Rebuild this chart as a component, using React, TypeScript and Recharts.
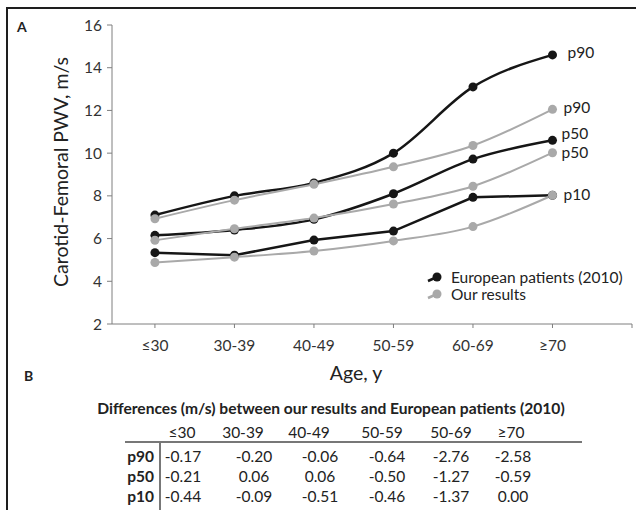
import React from "react";
import { LineChart, Line, XAxis, YAxis, LabelList } from "recharts";

// age groups on the x axis
const categories = ["≤30", "30-39", "40-49", "50-59", "60-69", "≥70"];

// European patients (2010)
const euroP90 = [7.1, 8.0, 8.6, 10.0, 13.1, 14.6];
const euroP50 = [6.15, 6.4, 6.9, 8.1, 9.72, 10.6];
const euroP10 = [5.34, 5.22, 5.93, 6.35, 7.93, 8.03];

// our results
const ourP90 = [6.93, 7.8, 8.54, 9.36, 10.36, 12.05];
const ourP50 = [5.92, 6.46, 6.96, 7.62, 8.45, 10.02];
const ourP10 = [4.88, 5.13, 5.42, 5.89, 6.56, 8.03];

const yTicks = [2, 4, 6, 8, 10, 12, 14, 16];

// table B
const tableTitle = "Differences (m/s) between our results and European patients (2010)";
const tableHeaders = ["≤30", "30-39", "40-49", "50-59", "50-69", "≥70"];
const diffP90 = ["-0.17", "-0.20", "-0.06", "-0.64", "-2.76", "-2.58"];
const diffP50 = ["-0.21", "0.06", "0.06", "-0.50", "-1.27", "-0.59"];
const diffP10 = ["-0.44", "-0.09", "-0.51", "-0.46", "-1.37", "0.00"];

const BLACK = "#161616";
const GRAY = "#a9a9a9";
const AXIS = "#7f7f7f";
const FONT = "Lato, 'Open Sans', sans-serif";

const rows = categories.map((cat, i) => ({
  idx: i,
  cat,
  eP90: euroP90[i],
  eP50: euroP50[i],
  eP10: euroP10[i],
  oP90: ourP90[i],
  oP50: ourP50[i],
  oP10: ourP10[i],
}));

const last = categories.length - 1;

// label at the end of a line (only the last point)
const endLabel = (text: string, dx: number, dy: number) => (props: any) => {
  if (props.index !== last) return null;
  return (
    <text
      x={props.x + dx}
      y={props.y + dy}
      fill="#222"
      fontSize={15.5}
      fontFamily={FONT}
      dominantBaseline="central"
    >
      {text}
    </text>
  );
};

const dot = (c: string) => ({ r: 4.5, fill: c, stroke: c, strokeWidth: 0 });

const colsHead = [182, 243, 309, 382, 451, 511];
const colsVal = [183, 254, 320, 387, 451, 513];

const Cell = ({ x, y, w = 70, bold = false, align = "center", children }: any) => (
  <div
    style={{
      position: "absolute",
      left: align === "center" ? x - w / 2 : align === "right" ? x - w : x,
      top: y - 10,
      width: w,
      height: 20,
      lineHeight: "20px",
      textAlign: align,
      fontWeight: bold ? 700 : 400,
      fontSize: 15.5,
      color: "#222",
      whiteSpace: "nowrap",
    }}
  >
    {children}
  </div>
);

const tableRows = [
  { name: "p90", vals: diffP90, y: 456 },
  { name: "p50", vals: diffP50, y: 476 },
  { name: "p10", vals: diffP10, y: 496 },
];

export default function App() {
  return (
    <div
      style={{
        position: "relative",
        width: 636,
        height: 510,
        overflow: "hidden",
        fontFamily: FONT,
        background: "#fff",
      }}
    >
      <style>{`body{margin:0;overflow:hidden}`}</style>
      {/* frame */}
      <div
        style={{
          position: "absolute",
          left: 6,
          top: 7,
          width: 660,
          height: 540,
          borderTop: "2.5px solid #1e1e1e",
          borderLeft: "2.5px solid #1e1e1e",
        }}
      />
      <div style={{ position: "absolute", left: 8, top: 9 }}>
        <LineChart
          width={626}
          height={390}
          data={rows}
          margin={{ top: 16, right: 2, bottom: 15, left: 0 }}
        >
          <XAxis
            dataKey="idx"
            type="number"
            domain={[-0.54, 6]}
            ticks={[0, 1, 2, 3, 4, 5, 6]}
            interval={0}
            allowDataOverflow
            tickFormatter={(v: number) => categories[v] ?? ""}
            stroke={AXIS}
            tickSize={4}
            tickMargin={12}
            height={60}
            tick={{ fill: "#333", fontSize: 15.5, fontFamily: FONT }}
            label={{
              value: "Age, y",
              content: () => (
                <text
                  x={348}
                  y={363}
                  textAnchor="middle"
                  dominantBaseline="central"
                  fill="#222"
                  fontSize={19.5}
                  fontFamily={FONT}
                >
                  Age, y
                </text>
              ),
            }}
          />
          <YAxis
            domain={[2, 16]}
            ticks={yTicks}
            interval={0}
            width={104}
            stroke={AXIS}
            tickSize={5}
            tickMargin={5}
            tick={{ fill: "#333", fontSize: 15.5, fontFamily: FONT }}
            label={{
              value: "Carotid-Femoral PWV, m/s",
              content: () => (
                <text
                  x={52}
                  y={163}
                  transform="rotate(-90, 52, 163)"
                  textAnchor="middle"
                  dominantBaseline="central"
                  fill="#222"
                  fontSize={19.5}
                  fontFamily={FONT}
                >
                  Carotid-Femoral PWV, m/s
                </text>
              ),
            }}
          />
          <Line type="monotone" dataKey="eP90" stroke={BLACK} strokeWidth={2.5} dot={dot(BLACK)} activeDot={false} isAnimationActive={false}>
            <LabelList dataKey="eP90" content={endLabel("p90", 15, -3)} />
          </Line>
          <Line type="monotone" dataKey="eP50" stroke={BLACK} strokeWidth={2.5} dot={dot(BLACK)} activeDot={false} isAnimationActive={false}>
            <LabelList dataKey="eP50" content={endLabel("p50", 9, -7)} />
          </Line>
          <Line type="linear" dataKey="eP10" stroke={BLACK} strokeWidth={2.5} dot={dot(BLACK)} activeDot={false} isAnimationActive={false}>
            <LabelList dataKey="eP10" content={endLabel("p10", 11, -1)} />
          </Line>
          <Line type="monotone" dataKey="oP90" stroke={GRAY} strokeWidth={2} dot={dot(GRAY)} activeDot={false} isAnimationActive={false}>
            <LabelList dataKey="oP90" content={endLabel("p90", 11, -2)} />
          </Line>
          <Line type="monotone" dataKey="oP50" stroke={GRAY} strokeWidth={2} dot={dot(GRAY)} activeDot={false} isAnimationActive={false}>
            <LabelList dataKey="oP50" content={endLabel("p50", 9, -1)} />
          </Line>
          <Line type="monotone" dataKey="oP10" stroke={GRAY} strokeWidth={2} dot={dot(GRAY)} activeDot={false} isAnimationActive={false} />
        </LineChart>
      </div>

      {/* legend */}
      {[
        { name: "European patients (2010)", color: BLACK, y: 277 },
        { name: "Our results", color: GRAY, y: 294 },
      ].map((item) => (
        <div key={item.name} style={{ position: "absolute", left: 424, top: item.y - 10, height: 20, display: "flex", alignItems: "center" }}>
          <svg width={20} height={20}>
            <line x1={4} y1={14} x2={13} y2={10} stroke={item.color} strokeWidth={2.5} />
            <circle cx={13} cy={10} r={4.5} fill={item.color} />
          </svg>
          <span style={{ marginLeft: 7, fontSize: 15.5, color: "#222", whiteSpace: "nowrap" }}>{item.name}</span>
        </div>
      ))}

      {/* panel letters */}
      <div style={{ position: "absolute", left: 17, top: 18, fontWeight: 700, fontSize: 14, color: "#222" }}>A</div>
      <div style={{ position: "absolute", left: 24, top: 367, fontWeight: 700, fontSize: 14, color: "#222" }}>B</div>

      {/* table */}
      <div
        style={{
          position: "absolute",
          left: 331 - 280,
          top: 399,
          width: 560,
          textAlign: "center",
          fontWeight: 700,
          fontSize: 15.6,
          color: "#222",
          whiteSpace: "nowrap",
        }}
      >
        {tableTitle}
      </div>
      {tableHeaders.map((h, i) => (
        <Cell key={h + i} x={colsHead[i]} y={432}>{h}</Cell>
      ))}
      <div style={{ position: "absolute", left: 125, top: 441, width: 457, height: 1.5, background: "#777" }} />
      <div style={{ position: "absolute", left: 159, top: 442, width: 1.5, height: 68, background: "#777" }} />
      {tableRows.map((r) => (
        <React.Fragment key={r.name}>
          <Cell x={154} y={r.y} w={50} bold align="right">{r.name}</Cell>
          {r.vals.map((v, i) => (
            <Cell key={i} x={colsVal[i]} y={r.y}>{v}</Cell>
          ))}
        </React.Fragment>
      ))}
    </div>
  );
}
